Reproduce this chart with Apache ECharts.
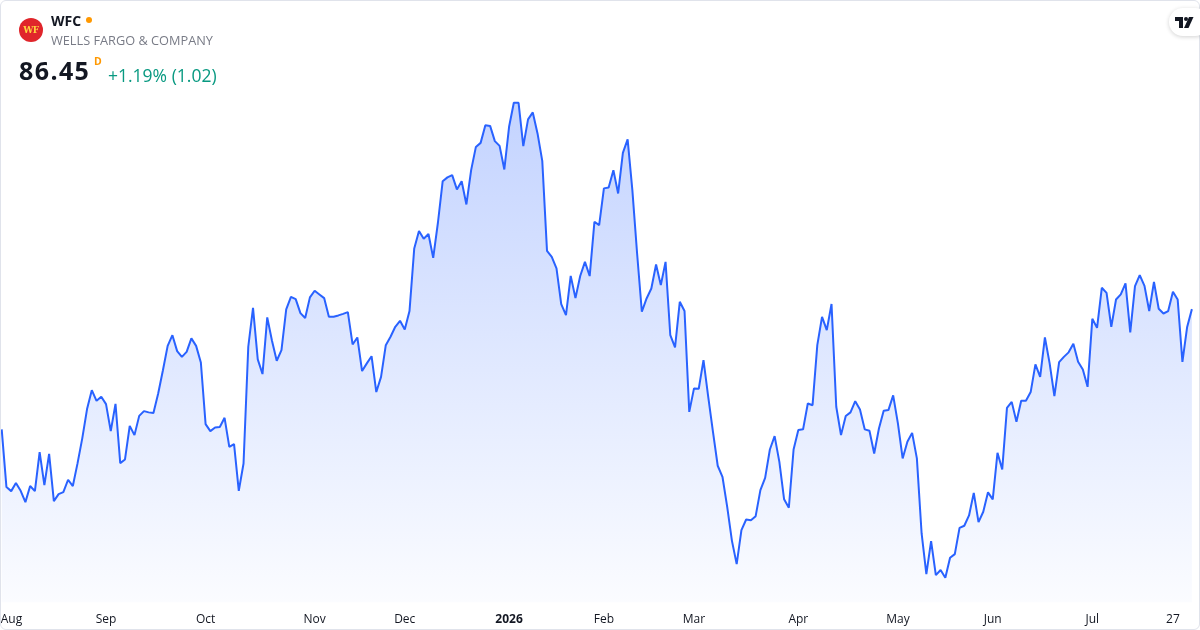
<!DOCTYPE html>
<html>
<head>
<meta charset="utf-8">
<script src="https://cdn.jsdelivr.net/npm/echarts@6/dist/echarts.min.js"></script>
<style>
  html, body { margin: 0; padding: 0; background: #ffffff; }
  #wrap { position: relative; width: 1200px; height: 630px; overflow: hidden; font-family: "Open Sans", "Noto Sans", sans-serif; }
  #chart { position: absolute; left: 0; top: 0; width: 1200px; height: 630px; }
  #frame { position: absolute; left: 0; top: 0; width: 1200px; height: 630px; box-sizing: border-box; border: 1px solid #e0e3eb; border-radius: 6px; pointer-events: none; }
  .abs { position: absolute; white-space: nowrap; }
  #logo { left: 19px; top: 18px; width: 24px; height: 24px; border-radius: 50%; background: #e0252b; color: #ffd23f; font: bold 9px "DejaVu Serif", serif; text-align: center; line-height: 24px; letter-spacing: -0.5px; }
  #sym { left: 51px; top: 11px; font-size: 14px; font-weight: 700; color: #131722; }
  #dot { left: 86px; top: 17px; width: 6px; height: 6px; border-radius: 50%; background: #ff9800; }
  #name { left: 51px; top: 31px; font-size: 12.75px; color: #787b86; }
  #price { left: 19px; top: 53px; font-size: 25px; font-weight: 700; color: #131722; letter-spacing: 1.4px; }
  #dflag { left: 94px; top: 54px; font-size: 10.5px; font-weight: 700; color: #ff9800; }
  #chg { left: 108px; top: 63px; font-size: 17.5px; color: #089981; }
  #tv { left: 1169px; top: 8px; width: 40px; height: 28px; border-radius: 14px; background: #fff; box-shadow: 0 1px 4px rgba(0,0,0,0.18); }
</style>
</head>
<body>
<div id="wrap">
  <div id="chart"></div>
  <div id="frame"></div>
  <div class="abs" id="logo">WF</div>
  <div class="abs" id="sym">WFC</div>
  <div class="abs" id="dot"></div>
  <div class="abs" id="name">WELLS FARGO &amp; COMPANY</div>
  <div class="abs" id="price">86.45</div>
  <div class="abs" id="dflag">D</div>
  <div class="abs" id="chg">+1.19% (1.02)</div>
  <div class="abs" id="tv">
    <svg width="40" height="28" viewBox="0 0 40 28">
      <path d="M6 9 H14 V20 H10 V13 H6 Z" fill="#131722"/>
      <circle cx="17" cy="11" r="2" fill="#131722"/>
      <path d="M20 9 H24.5 L19.5 20 H15 Z" fill="#131722"/>
    </svg>
  </div>
</div>
<script>
// Trading days, by month (day numbers)
const tradingDays = {
  '2025-07': [31],
  '2025-08': [1,4,5,6,7,8,11,12,13,14,15,18,19,20,21,22,25,26,27,28,29],
  '2025-09': [2,3,4,5,8,9,10,11,12,15,16,17,18,19,22,23,24,25,26,29,30],
  '2025-10': [1,2,3,6,7,8,9,10,13,14,15,16,17,20,21,22,23,24,27,28,29,30,31],
  '2025-11': [3,4,5,6,7,10,11,12,13,14,17,18,19,20,21,24,25,26,28],
  '2025-12': [1,2,3,4,5,8,9,10,11,12,15,16,17,18,19,22,23,24,26,29,30,31],
  '2026-01': [2,5,6,7,8,9,12,13,14,15,16,20,21,22,23,26,27,28,29,30],
  '2026-02': [2,3,4,5,6,9,10,11,12,13,17,18,19,20,23,24,25,26,27],
  '2026-03': [2,3,4,5,6,9,10,11,12,13,16,17,18,19,20,23,24,25,26,27,30,31],
  '2026-04': [1,2,6,7,8,9,10,13,14,15,16,17,20,21,22,23,24,27,28,29,30],
  '2026-05': [1,4,5,6,7,8,11,12,13,14,15,18,19,20,21,22,26,27,28,29],
  '2026-06': [1,2,3,4,5,8,9,10,11,12,15,16,17,18,22,23,24,25,26,29,30],
  '2026-07': [1,2,6,7,8,9,10,13,14,15,16,17,20,21,22,23,24,27,28,29,30,31]
};

// Daily closes
const closes = [
  79.58, 76.28, 76.05, 76.51, 76.07, 75.42, 76.34, 76.05, 78.28, 76.39,
  78.18, 75.48, 75.88, 75.99, 76.70, 76.34, 77.65, 79.08, 80.74, 81.82,
  81.21, 81.44, 81.02, 79.48, 81.04, 77.65, 77.86, 79.78, 79.25, 80.35,
  80.62, 80.55, 80.52, 81.63, 82.96, 84.35, 84.96, 84.05, 83.72, 84.01,
  84.78, 84.35, 83.40, 79.88, 79.48, 79.69, 79.71, 80.24, 78.58, 78.74,
  76.07, 77.63, 84.30, 86.52, 83.58, 82.74, 85.98, 84.64, 83.50, 84.11,
  86.43, 87.15, 87.02, 86.22, 85.94, 87.12, 87.50, 87.29, 87.08, 86.01,
  86.01, 86.09, 86.18, 86.28, 84.43, 84.83, 82.91, 83.35, 83.76, 81.71,
  82.58, 84.39, 84.87, 85.44, 85.78, 85.29, 86.34, 89.92, 90.92, 90.47,
  90.74, 89.38, 91.40, 93.76, 93.98, 94.11, 93.29, 93.76, 92.43, 94.39,
  95.72, 95.95, 96.96, 96.92, 96.05, 95.78, 94.43, 96.87, 98.24, 98.24,
  95.76, 97.29, 97.69, 96.49, 94.92, 89.78, 89.44, 88.78, 86.74, 86.11,
  88.35, 87.08, 88.34, 89.15, 88.34, 91.44, 91.25, 93.35, 93.40, 94.39,
  93.06, 95.38, 96.15, 93.25, 89.63, 86.30, 87.06, 87.63, 89.00, 87.82,
  89.15, 84.96, 84.26, 86.87, 86.34, 80.58, 81.92, 81.90, 83.54, 81.44,
  79.44, 77.50, 76.87, 75.15, 73.21, 71.88, 73.82, 74.43, 74.39, 74.62,
  76.11, 76.81, 78.43, 79.19, 77.72, 75.58, 75.10, 78.43, 79.54, 79.58,
  81.06, 80.96, 84.39, 86.01, 85.25, 86.74, 80.87, 79.25, 80.34, 80.55,
  81.19, 80.72, 79.58, 79.50, 78.20, 79.63, 80.64, 80.68, 81.52, 79.92,
  77.92, 78.87, 79.38, 77.92, 73.63, 71.31, 73.19, 71.25, 71.54, 71.10,
  72.24, 72.45, 73.95, 74.07, 74.66, 75.95, 74.28, 74.87, 75.98, 75.58,
  78.24, 77.29, 80.81, 81.15, 80.01, 81.21, 81.21, 81.71, 83.29, 82.58,
  84.83, 83.35, 81.48, 83.42, 83.72, 83.98, 84.47, 83.44, 83.00, 82.01,
  85.90, 85.38, 87.67, 87.38, 85.44, 87.00, 87.29, 87.92, 85.12, 87.76,
  88.39, 87.78, 86.34, 88.01, 86.47, 86.20, 86.34, 87.44, 87.00, 83.44,
  85.43, 86.45
];

// Tick labels on the time axis
const tickDates  = ['2025-08-01','2025-09-02','2025-10-01','2025-11-03','2025-12-01','2026-01-02','2026-02-02','2026-03-02','2026-04-01','2026-05-01','2026-06-01','2026-07-01','2026-07-27'];
const tickLabels = ['Aug','Sep','Oct','Nov','Dec','2026','Feb','Mar','Apr','May','Jun','Jul','27'];

const dates = [];
Object.keys(tradingDays).forEach(function (ym) {
  tradingDays[ym].forEach(function (d) { dates.push(ym + '-' + (d < 10 ? '0' + d : d)); });
});

const tickMap = {};
tickDates.forEach(function (d, i) { tickMap[d] = tickLabels[i]; });

const chart = echarts.init(document.getElementById('chart'), null, { renderer: 'canvas' });
chart.setOption({
  animation: false,
  backgroundColor: '#ffffff',
  grid: { left: 1.7, right: 8.1, top: 72, bottom: 27.75, containLabel: false, outerBoundsMode: 'none' },
  xAxis: {
    type: 'category',
    data: dates,
    boundaryGap: false,
    axisLine: { show: false },
    axisTick: { show: false },
    splitLine: { show: false },
    axisLabel: {
      margin: 11.5,
      fontSize: 12,
      color: '#131722',
      fontFamily: '"Open Sans", sans-serif',
      interval: function (idx, val) { return tickMap[val] !== undefined; },
      formatter: function (val) {
        const t = tickMap[val];
        if (t === undefined) return '';
        if (t === '2026') return '{b|2026}';
        if (t === 'Aug') return '{a|Aug}';
        return t;
      },
      rich: {
        a: { fontSize: 12, color: '#131722', fontFamily: '"Open Sans", sans-serif', padding: [0, 0, 0, 10] },
        b: { fontSize: 12, fontWeight: 'bold', color: '#131722', fontFamily: '"Open Sans", sans-serif' }
      }
    }
  },
  yAxis: {
    type: 'value',
    min: 69.7,
    max: 100,
    show: false,
    splitLine: { show: false }
  },
  series: [{
    type: 'line',
    data: closes,
    showSymbol: false,
    symbol: 'none',
    smooth: false,
    lineStyle: { color: '#2962ff', width: 2 },
    areaStyle: {
      origin: 'start',
      opacity: 1,
      color: new echarts.graphic.LinearGradient(0, 0, 0, 1, [
        { offset: 0, color: 'rgba(41,98,255,0.28)' },
        { offset: 1, color: 'rgba(41,98,255,0.02)' }
      ])
    }
  }]
});
</script>
</body>
</html>
